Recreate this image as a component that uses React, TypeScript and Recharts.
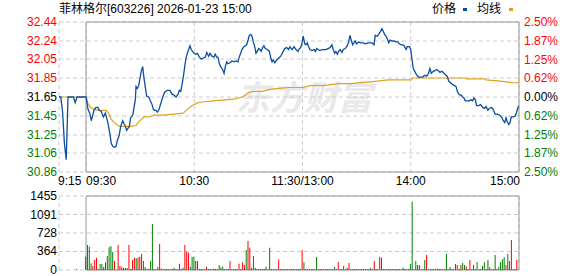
import React from "react";
import {
  ComposedChart, BarChart, Line, Bar, Cell, XAxis, YAxis,
  CartesianGrid, ReferenceArea,
} from "recharts";

const prevClose = 31.65;

const timeTicks = [0, 15, 75, 135, 195, 255];
const timeLabels = ["9:15", "09:30", "10:30", "11:30/13:00", "14:00", "15:00"];
const priceTicks = [30.86, 31.06, 31.25, 31.45, 31.65, 31.85, 32.05, 32.24, 32.44];
const pctTicks = [-2.5, -1.875, -1.25, -0.625, 0, 0.625, 1.25, 1.875, 2.5];
const pctLabels = ["2.50%", "1.87%", "1.25%", "0.62%", "0.00%", "0.62%", "1.25%", "1.87%", "2.50%"];
const volTicks = [0, 364, 728, 1091, 1455];

// [minute from 9:15, price]
const pricePoints: [number, number][] = [
  [0, 31.65], [1, 31.65], [2, 31.49], [3, 31.16], [4, 30.99], [5, 31.65], [8, 31.65], [9, 31.59], [10, 31.65], [15, 31.65],
  [16.1, 31.52], [17.2, 31.47], [17.9, 31.4], [18.7, 31.46], [19.4, 31.51], [20.5, 31.54], [21.6, 31.54], [22.3, 31.51],
  [23.4, 31.5], [24.6, 31.44], [25.7, 31.48], [26.4, 31.43], [27.2, 31.37], [28.3, 31.25], [29, 31.16], [29.8, 31.13],
  [30.9, 31.12], [31.6, 31.13], [32.3, 31.19], [33.4, 31.25], [34.2, 31.34], [35.3, 31.4], [36, 31.37], [36.8, 31.34],
  [37.5, 31.3], [38.2, 31.32], [39, 31.34], [39.7, 31.43], [40.9, 31.46], [41.6, 31.54], [42.3, 31.62], [42.7, 31.76],
  [43.4, 31.74], [44.2, 31.77], [44.9, 31.85], [45.6, 31.92], [46.4, 31.97], [47.1, 31.85], [47.8, 31.76], [48.6, 31.66],
  [49.7, 31.65], [50.4, 31.62], [51.6, 31.57], [52.3, 31.52], [53, 31.51], [53.8, 31.51], [54.5, 31.49], [55.3, 31.51],
  [56.4, 31.58], [57.5, 31.65], [58.6, 31.7], [60, 31.72], [61.5, 31.72], [62.6, 31.68], [63.7, 31.67], [64.9, 31.65],
  [66, 31.68], [66.7, 31.72], [67.5, 31.71], [68.2, 31.78], [68.9, 31.86], [69.7, 31.97], [70.4, 32.06], [71.1, 32.11],
  [71.9, 32.15], [72.6, 32.19], [73.3, 32.15], [74.4, 32.12], [75.6, 32.1], [76.7, 32.11], [77.8, 32.07], [78.9, 32.05],
  [80, 32.06], [81.1, 32.07], [81.9, 32.12], [83, 32.08], [83.7, 32.11], [84.8, 32.08], [85.9, 32.07], [86.6, 32.1],
  [87.4, 32.07], [88.1, 32.07], [88.9, 32.0], [89.6, 31.97], [90.7, 31.94], [91.5, 31.9], [92.2, 31.97], [93, 32.02],
  [93.7, 32.0], [94.8, 32.01], [95.9, 32.03], [97, 32.02], [98.1, 32.03], [99.2, 32.02], [99.9, 32.07], [100.7, 32.11],
  [101.4, 32.15], [102.5, 32.18], [104, 32.2], [104.8, 32.25], [105.5, 32.3], [106.3, 32.31], [107, 32.29], [107.7, 32.23],
  [108.5, 32.18], [109.2, 32.11], [109.9, 32.13], [110.7, 32.16], [111.4, 32.15], [112.1, 32.13], [112.9, 32.17], [113.6, 32.19],
  [114.4, 32.16], [115.5, 32.15], [116.6, 32.13], [117.4, 32.06], [118.1, 32.02], [118.8, 32.04], [119.6, 32.01], [120.7, 32.04],
  [121.8, 32.06], [122.9, 32.08], [124, 32.12], [125.1, 32.16], [126.2, 32.17], [127.3, 32.15], [128, 32.18], [129.2, 32.15],
  [130.3, 32.18], [131.4, 32.15], [132.5, 32.13], [133.2, 32.16], [134, 32.17], [134.7, 32.22], [135.4, 32.29], [136.2, 32.21],
  [136.9, 32.2], [137.6, 32.22], [138.4, 32.18], [139.1, 32.15], [140.2, 32.14], [141.4, 32.15], [142.1, 32.13], [142.9, 32.16],
  [143.6, 32.15], [144.7, 32.14], [145.8, 32.15], [146.9, 32.15], [148, 32.15], [149.1, 32.16], [150.2, 32.17], [151.3, 32.2],
  [152, 32.15], [152.8, 32.11], [153.5, 32.13], [154.3, 32.1], [155, 32.13], [155.8, 32.15], [156.9, 32.12], [157.6, 32.15],
  [158.7, 32.16], [159.8, 32.19], [160.6, 32.23], [161.3, 32.3], [162, 32.25], [162.8, 32.2], [163.5, 32.22], [164.2, 32.24],
  [165, 32.21], [166.1, 32.23], [167.2, 32.22], [168.7, 32.22], [169.8, 32.21], [171.3, 32.22], [172.4, 32.22], [173.5, 32.22],
  [174.6, 32.2], [175.3, 32.3], [176.4, 32.29], [177.2, 32.31], [177.9, 32.33], [179, 32.37], [179.8, 32.34], [180.5, 32.31],
  [181.3, 32.29], [182, 32.26], [182.8, 32.22], [183.5, 32.25], [184.6, 32.24], [185.7, 32.24], [186.8, 32.23], [187.9, 32.23],
  [188.6, 32.21], [189.7, 32.2], [190.9, 32.2], [191.6, 32.18], [192.4, 32.15], [193.1, 32.18], [194.2, 32.18], [195, 32.15],
  [195.7, 32.04], [196.4, 31.95], [197.2, 31.92], [198.3, 31.88], [199.4, 31.86], [200.5, 31.86], [201.6, 31.86], [202.7, 31.88],
  [203.8, 31.87], [204.9, 31.9], [205.6, 31.95], [206.4, 31.9], [207.5, 31.92], [208.6, 31.93], [209.4, 31.94], [210.1, 31.93],
  [211.2, 31.91], [212.3, 31.92], [213.4, 31.9], [214.5, 31.88], [215.2, 31.87], [216, 31.82], [217.1, 31.8], [218.2, 31.78],
  [219.3, 31.77], [220.1, 31.76], [220.8, 31.71], [221.6, 31.68], [222.3, 31.67], [223, 31.67], [223.8, 31.65], [224.5, 31.64],
  [225.2, 31.61], [226.3, 31.61], [227.4, 31.61], [228.5, 31.62], [229.3, 31.61], [230, 31.64], [230.8, 31.62], [231.5, 31.56],
  [232.6, 31.56], [233.7, 31.57], [234.9, 31.54], [236, 31.53], [236.7, 31.55], [237.8, 31.51], [238.5, 31.53], [239.6, 31.54],
  [240.4, 31.53], [241.1, 31.5], [241.8, 31.47], [242.9, 31.47], [244, 31.46], [244.8, 31.45], [245.6, 31.43], [246.3, 31.4],
  [247.1, 31.38], [247.8, 31.43], [248.5, 31.39], [249.3, 31.36], [250, 31.38], [250.7, 31.44], [251.8, 31.44], [252.9, 31.45],
  [253.7, 31.49], [254.4, 31.54], [255, 31.56],
];

// [minute from 9:15, average price]
const avgPoints: [number, number][] = [
  [0, 31.65], [15, 31.65], [16.1, 31.58], [17.6, 31.54], [19.6, 31.52], [22.3, 31.51], [26.1, 31.51], [27.5, 31.48],
  [28.8, 31.42], [30.7, 31.38], [33.4, 31.34], [39.9, 31.34], [42.7, 31.35], [44.3, 31.39], [47.1, 31.44], [49.9, 31.44],
  [52.7, 31.46], [58.2, 31.46], [63.4, 31.47], [68.9, 31.48], [71.1, 31.52], [73.9, 31.56], [77.1, 31.59], [80.4, 31.6],
  [85.9, 31.61], [92.2, 31.62], [97.7, 31.63], [101.4, 31.65], [103.3, 31.67], [105.2, 31.7], [108.8, 31.71], [112.5, 31.71],
  [117.1, 31.73], [121.8, 31.74], [127.3, 31.75], [135.4, 31.75], [139.1, 31.77], [146.5, 31.77], [154.8, 31.79], [161.3, 31.79],
  [172.4, 31.81], [177.8, 31.82], [182.4, 31.83], [195, 31.83], [196.2, 31.85], [225.6, 31.85], [226, 31.84], [236.3, 31.84],
  [236.7, 31.83], [243.2, 31.82], [248.2, 31.81], [250.6, 31.8], [255, 31.8],
];

// [minute from 9:15, volume, up (1) / down (0)]
const volBars: [number, number, number][] = [
  [10, 20, 1],
  [15, 262, 0], [16, 491, 0], [17, 459, 0], [18, 131, 0], [19, 79, 1], [20, 197, 1], [21, 242, 1], [22, 20, 0], [23, 118, 0],
  [24, 118, 0], [25, 59, 1], [26, 151, 0], [27, 275, 0], [28, 446, 0], [29, 472, 0], [30, 354, 0], [31, 177, 1], [33, 491, 1],
  [34, 79, 1], [35, 59, 1], [36, 39, 0], [37, 39, 0], [38, 39, 0], [39, 491, 1], [40, 20, 1], [41, 197, 1], [42, 242, 1],
  [43, 229, 0], [44, 242, 1], [45, 262, 1], [46, 315, 1], [47, 177, 0], [48, 59, 0], [49, 20, 0], [50, 30, 1], [51, 177, 0],
  [52, 904, 0], [53, 20, 1], [54, 20, 1], [55, 59, 1], [56, 511, 1], [57, 30, 1], [58, 20, 1], [59, 20, 0], [60, 20, 1],
  [61, 20, 0], [62, 20, 1], [63, 20, 1], [64, 45, 0], [65, 20, 1], [66, 20, 1], [67, 124, 1], [68, 20, 1], [69, 45, 0],
  [70, 491, 1], [71, 360, 1], [72, 341, 1], [73, 65, 0], [74, 262, 0], [75, 262, 0], [76, 177, 1], [77, 177, 0], [78, 20, 1],
  [79, 20, 1], [80, 20, 0], [81, 20, 1], [82, 65, 1], [83, 20, 1], [84, 20, 0], [85, 20, 1], [86, 30, 1], [87, 20, 0],
  [88, 20, 0], [89, 98, 0], [90, 50, 0], [91, 65, 0], [92, 20, 1], [93, 20, 0], [94, 20, 1], [95, 177, 1], [96, 20, 1],
  [97, 20, 0], [98, 20, 1], [99, 20, 1], [100, 124, 1], [101, 20, 0], [102, 150, 1], [103, 98, 1], [104, 393, 0], [105, 570, 1],
  [106, 439, 1], [107, 45, 0], [108, 275, 0], [109, 45, 0], [110, 20, 0], [111, 20, 1], [112, 20, 0], [113, 20, 1], [114, 20, 0],
  [115, 65, 0], [116, 20, 1], [117, 439, 0], [118, 20, 0], [119, 20, 1], [120, 20, 1], [121, 20, 1], [122, 210, 1], [123, 20, 1],
  [124, 20, 1], [125, 20, 1], [126, 20, 0], [127, 20, 1], [128, 20, 0], [129, 20, 0], [130, 20, 1], [131, 20, 0], [132, 20, 1],
  [133, 20, 0], [134, 20, 1], [135, 393, 1], [136, 151, 0], [137, 20, 0], [138, 20, 1], [139, 20, 0], [140, 20, 1], [141, 20, 1],
  [142, 20, 0], [143, 255, 0], [144, 20, 1], [145, 20, 1], [146, 20, 1], [147, 20, 1], [148, 20, 1], [149, 20, 0], [150, 20, 1],
  [151, 20, 0], [152, 20, 0], [153, 59, 0], [154, 20, 1], [155, 157, 1], [156, 20, 0], [157, 20, 1], [158, 79, 0], [159, 20, 0],
  [160, 45, 1], [161, 138, 1], [162, 20, 1], [163, 20, 1], [164, 20, 0], [165, 20, 1], [166, 20, 1], [167, 20, 0], [168, 20, 1],
  [169, 20, 1], [170, 20, 0], [171, 20, 1], [172, 20, 0], [173, 45, 0], [174, 20, 0], [175, 177, 1], [176, 20, 1], [177, 20, 0],
  [178, 262, 1], [179, 242, 1], [180, 20, 0], [181, 20, 0], [182, 20, 1], [183, 20, 0], [184, 20, 1], [185, 20, 1], [186, 20, 0],
  [187, 20, 1], [188, 20, 1], [189, 20, 0], [190, 20, 1], [191, 45, 0], [192, 20, 1], [193, 20, 1], [194, 20, 1], [195, 118, 0],
  [196, 1343, 0], [197, 20, 1], [198, 177, 0], [199, 98, 1], [200, 98, 1], [201, 20, 0], [202, 20, 1], [203, 197, 0], [204, 295, 1],
  [205, 20, 1], [206, 20, 1], [207, 20, 0], [208, 20, 1], [209, 20, 1], [210, 30, 1], [211, 20, 0], [212, 20, 1], [213, 20, 1],
  [214, 20, 0], [215, 315, 0], [216, 20, 1], [217, 59, 0], [218, 20, 1], [219, 20, 0], [220, 118, 0], [221, 98, 1], [222, 20, 0],
  [223, 98, 1], [224, 138, 0], [225, 98, 0], [226, 72, 1], [227, 20, 1], [228, 197, 1], [229, 20, 1], [230, 98, 0], [231, 20, 1],
  [232, 151, 0], [233, 20, 1], [234, 20, 0], [235, 79, 0], [236, 151, 0], [237, 20, 1], [238, 197, 0], [239, 52, 1], [240, 20, 1],
  [241, 20, 1], [242, 295, 0], [243, 20, 1], [244, 59, 0], [245, 151, 0], [246, 210, 0], [247, 255, 0], [248, 98, 1], [249, 315, 0],
  [250, 177, 1], [251, 590, 1], [252, 20, 1], [253, 20, 1], [254, 197, 1],
];

const priceData = pricePoints.map(([t, p]) => ({ t, p }));
const avgData = avgPoints.map(([t, p]) => ({ t, p }));
const volData = volBars.map(([t, v, up]) => ({ t, v, up }));

const RED = "#ff0000";
const GREEN = "#008000";
const BLUE = "#0b4ea2";
const GOLD = "#e0a21e";
const BORDER = "#999999";
const GRID = "#cccccc";

function PriceTick({ x, y, payload }: any) {
  const v = payload.value;
  const fill = v > prevClose + 0.001 ? RED : v < prevClose - 0.001 ? GREEN : "#000";
  return (
    <text x={x} y={y} dy={4} textAnchor="end" fill={fill} fontSize={12}>
      {v.toFixed(2)}
    </text>
  );
}

function PctTick({ x, y, payload }: any) {
  const v = payload.value;
  const i = pctTicks.indexOf(v);
  const fill = v > 0 ? RED : v < 0 ? GREEN : "#000";
  return (
    <text x={x} y={y} dy={4} textAnchor="start" fill={fill} fontSize={12}>
      {pctLabels[i]}
    </text>
  );
}

function VolTick({ x, y, payload }: any) {
  return (
    <text x={x} y={y} dy={4} textAnchor="end" fill="#000" fontSize={12}>
      {payload.value}
    </text>
  );
}

function TimeTick({ x, y, payload }: any) {
  const i = timeTicks.indexOf(payload.value);
  const anchor = i <= 1 ? "start" : i === timeTicks.length - 1 ? "end" : "middle";
  const dx = i === 0 ? -1 : i === timeTicks.length - 1 ? 1 : 0;
  return (
    <text x={x + dx} y={y} dy={13} textAnchor={anchor} fill="#000" fontSize={12}>
      {timeLabels[i]}
    </text>
  );
}

export default function App() {
  const font = "'Liberation Sans', Arial, 'Noto Sans CJK SC', sans-serif";
  return (
    <div style={{ position: "absolute", left: 0, top: 0, width: 578, height: 276, background: "#fff", fontFamily: font }}>
      <div style={{ position: "absolute", left: 59, top: 1, fontSize: 12, lineHeight: "16px", color: "#000", whiteSpace: "nowrap" }}>
        菲林格尔[603226] 2026-01-23 15:00
      </div>
      <div style={{ position: "absolute", left: 432, top: 1, fontSize: 12, lineHeight: "16px", color: "#000", whiteSpace: "nowrap", display: "flex", alignItems: "center" }}>
        <span>价格</span>
        <span style={{ display: "inline-block", width: 4, height: 3, background: BLUE, marginLeft: 7, marginRight: 10 }} />
        <span>均线</span>
        <span style={{ display: "inline-block", width: 4, height: 3, background: GOLD, marginLeft: 8 }} />
      </div>
      <div style={{ position: "absolute", left: 236, top: 78, fontSize: 34, lineHeight: "36px", fontWeight: 700, fontStyle: "italic", color: "#e9e9ec", fontFamily: "'Noto Sans CJK SC', sans-serif", whiteSpace: "nowrap" }}>
        东方财富
      </div>
      <div style={{ position: "absolute", left: 0, top: 0 }}>
        <ComposedChart width={578} height={190} margin={{ top: 22, right: 0, left: 0, bottom: 0 }}>
          <CartesianGrid stroke={GRID} strokeDasharray="4 3" />
          <XAxis
            dataKey="t" type="number" domain={[0, 255]} ticks={timeTicks} interval={0}
            tick={<TimeTick />} tickLine={false} axisLine={false} tickSize={0} tickMargin={0} height={18} allowDataOverflow
          />
          <YAxis
            type="number" domain={[30.86, 32.44]} ticks={priceTicks} interval={0} width={59}
            tick={<PriceTick />} tickLine={false} axisLine={false} tickSize={0} tickMargin={2} allowDataOverflow
          />
          <YAxis
            yAxisId="pct" orientation="right" type="number" domain={[-2.5, 2.5]} ticks={pctTicks} interval={0} width={59}
            tick={<PctTick />} tickLine={false} axisLine={false} tickSize={0} tickMargin={5} allowDataOverflow
          />
          <ReferenceArea x1={15} x2={255} y1={30.86} y2={32.44} stroke={BORDER} strokeWidth={1} fill="none" fillOpacity={0} />
          <Line data={avgData} dataKey="p" type="linear" stroke={GOLD} strokeWidth={1.2} dot={false} isAnimationActive={false} />
          <Line data={priceData} dataKey="p" type="linear" stroke={BLUE} strokeWidth={1.3} dot={false} isAnimationActive={false} />
        </ComposedChart>
      </div>
      <div style={{ position: "absolute", left: 0, top: 190 }}>
        <BarChart width={578} height={86} data={volData} barSize={1} margin={{ top: 6, right: 59, left: 0, bottom: 6 }}>
          <CartesianGrid stroke={GRID} strokeDasharray="4 3" />
          <XAxis
            dataKey="t" type="number" domain={[0, 255]} ticks={[0, 75, 135, 195]} interval={0}
            tick={false} tickLine={false} axisLine={false} height={0} allowDataOverflow
          />
          <YAxis
            type="number" domain={[0, 1455]} ticks={volTicks} interval={0} width={59}
            tick={<VolTick />} tickLine={false} axisLine={false} tickSize={0} tickMargin={2} allowDataOverflow
          />
          <ReferenceArea x1={15} x2={255} y1={0} y2={1455} stroke={BORDER} strokeWidth={1} fill="none" fillOpacity={0} />
          <Bar dataKey="v" isAnimationActive={false}>
            {volData.map((d, i) => (
              <Cell key={i} fill={d.up ? RED : GREEN} />
            ))}
          </Bar>
        </BarChart>
      </div>
    </div>
  );
}
